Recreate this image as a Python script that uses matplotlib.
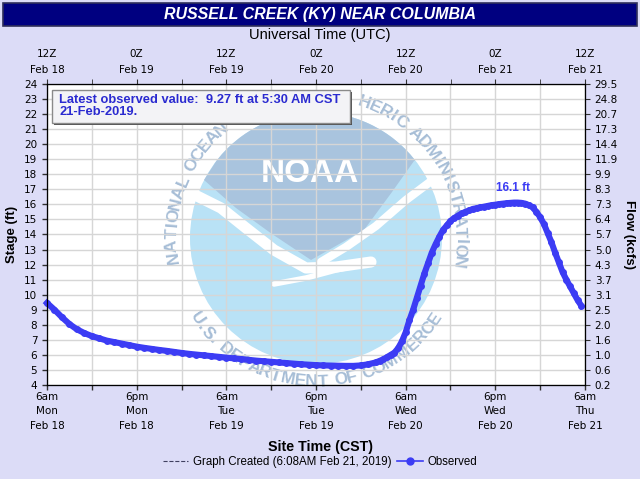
import numpy as np
import matplotlib
matplotlib.use("Agg")
import matplotlib.pyplot as plt
from matplotlib.lines import Line2D
from matplotlib.patches import Rectangle, Circle, Polygon
from matplotlib.transforms import Affine2D

# hours since 6am CST Mon Feb 18
hours = [
    0, 1, 2, 3, 4, 5, 6, 7, 8, 9, 10, 11, 12, 13, 14, 15, 16, 17, 18, 19,
    20, 21, 22, 23, 24, 25, 26, 27, 28, 29, 30, 31, 32, 33, 34, 35, 36, 37,
    38, 39, 40, 41, 42, 43,
    44, 44.5, 45, 45.5, 46, 46.5, 47, 47.5, 48, 48.5, 49, 49.5, 50, 50.5,
    51, 51.5, 52, 52.5, 53, 53.5, 54, 54.5, 55, 55.5, 56, 56.5, 57, 57.5,
    58, 58.5, 59, 59.5, 60, 60.5, 61, 61.5, 62, 62.5, 63, 63.5, 64, 64.5,
    65, 65.5, 66, 66.5, 67, 67.5, 68, 68.5, 69, 69.5, 70, 70.5, 71, 71.5,
]
stage = [
    9.45, 9.0, 8.5, 8.05, 7.7, 7.45, 7.25, 7.1, 6.95, 6.85, 6.75, 6.65,
    6.55, 6.47, 6.4, 6.33, 6.27, 6.2, 6.13, 6.07, 6.02, 5.97, 5.92, 5.87,
    5.82, 5.77, 5.72, 5.67, 5.62, 5.58, 5.54, 5.5, 5.46, 5.42, 5.38, 5.35,
    5.32, 5.3, 5.29, 5.28, 5.27, 5.27, 5.3, 5.38,
    5.5, 5.6, 5.7, 5.85, 6.0, 6.15, 6.45, 6.9, 7.5, 8.3, 9.0, 9.8, 10.6,
    11.4, 12.1, 12.8, 13.35, 13.85, 14.3, 14.6, 14.9, 15.1, 15.25, 15.4,
    15.5, 15.6, 15.7, 15.75, 15.8, 15.85, 15.9, 15.95, 15.98, 16.02, 16.05,
    16.08, 16.1, 16.12, 16.12, 16.1, 16.05, 15.95, 15.8, 15.5, 15.15, 14.7,
    14.1, 13.5, 12.8, 12.15, 11.5, 11.0, 10.55, 10.1, 9.65, 9.27,
]

site_labels = ["6am\nMon\nFeb 18", "6pm\nMon\nFeb 18", "6am\nTue\nFeb 19",
               "6pm\nTue\nFeb 19", "6am\nWed\nFeb 20", "6pm\nWed\nFeb 20",
               "6am\nThu\nFeb 21"]
utc_labels = ["12Z\nFeb 18", "0Z\nFeb 19", "12Z\nFeb 19", "0Z\nFeb 20",
              "12Z\nFeb 20", "0Z\nFeb 21", "12Z\nFeb 21"]
stage_ticks = list(range(4, 25))
flow_labels = ["0.2", "0.6", "1.0", "1.6", "2.0", "2.5", "3.1", "3.7", "4.3",
               "5.0", "5.7", "6.4", "7.3", "8.3", "9.9", "11.9", "14.4",
               "17.3", "20.7", "24.8", "29.5"]

W, H = 640, 479
BG = "#dcdcf7"
BLUE = "#3c3cf4"
SANS = ["Liberation Sans", "DejaVu Sans"]
TICKF = ["DejaVu Sans"]
BOX = (52, 90, 350, 123)  # latest-value box, pixels from top-left


def fx(x):
    return x / W


def fy(y):
    return 1 - y / H


def char_w(ch):
    if ch in " .I":
        return 0.45
    if ch in "MW":
        return 1.05
    return 0.8


def arc_angles(text, a0, a1):
    w = np.array([char_w(c) for c in text])
    pos = np.cumsum(w) - w / 2
    return a0 + (a1 - a0) * pos / w.sum()


fig = plt.figure(figsize=(W / 100, H / 100), dpi=100, facecolor=BG)

# title bar
fig.patches.append(Rectangle((fx(3), fy(26)), fx(634), 23 / H,
                             transform=fig.transFigure, facecolor="#000080",
                             edgecolor="#30305a", linewidth=1.2))
fig.text(0.5, fy(14), "RUSSELL CREEK (KY) NEAR COLUMBIA", color="white",
         ha="center", va="center", fontsize=11.5, fontweight="bold",
         style="italic", family=SANS)

ax = fig.add_axes([fx(47), fy(385), fx(538), 301 / H])
ax.set_facecolor("white")
ax.set_xlim(0, 72)
ax.set_ylim(4, 24)
ax.set_axisbelow(True)

# NOAA watermark, drawn in pixel space around the logo centre
cx, cy = 316, 238
logo = Affine2D().scale(0.01).translate(cx / 100, (H - cy) / 100) + fig.dpi_scale_trans
ax.add_patch(Circle((0, 0), 126, facecolor="#b9e2f6", edgecolor="none",
                    transform=logo, zorder=0.2))
ang = np.radians(np.linspace(38, 142, 30))
cap = [(126 * np.cos(a), 126 * np.sin(a)) for a in ang] + \
      [(-112, 58), (-80, 30), (-44, 4), (-5, -22), (48, 8), (76, 46), (98, 77)]
ax.add_patch(Polygon(cap, closed=True, facecolor="#a9c4de", edgecolor="none",
                     transform=logo, zorder=0.25))
ax.plot([-125, -95, -70, -42, -10, 20, 55], [45, 30, 10, -12, -30, -29, -24],
        color="white", lw=8, solid_capstyle="round", transform=logo, zorder=0.3)
ax.plot([-42, -10, 20, 45], [-46, -40, -32, -27], color="white", lw=4,
        solid_capstyle="round", transform=logo, zorder=0.3)
ax.plot([114, 90, 60, 30, 5], [56, 38, 12, -9, -24], color="white", lw=6,
        solid_capstyle="round", transform=logo, zorder=0.3)
ax.text(-6, 64, "NOAA", color="white", fontsize=24, fontweight="bold",
        ha="center", va="center", family=SANS, transform=logo, zorder=0.35)


def ring_text(text, a0, a1, flip):
    for ch, a in zip(text, arc_angles(text, a0, a1)):
        r = np.radians(a)
        x, y = 144 * np.cos(r), 144 * np.sin(r)
        px, py = cx + x, cy - y
        if BOX[0] - 4 < px < BOX[2] + 4 and BOX[1] - 4 < py < BOX[3] + 4:
            continue  # hidden under the latest-value box
        ax.text(x, y, ch, rotation=a + 90 if flip else a - 90,
                rotation_mode="anchor", ha="center", va="center",
                fontsize=12.5, fontweight="bold", color="#a6bdd6",
                family=SANS, transform=logo, zorder=0.3)


ring_text("NATIONAL OCEANIC AND ATMOSPHERIC ADMINISTRATION", 190, -12, False)
ring_text("U.S. DEPARTMENT OF COMMERCE", 212, 328, True)

# grid and data
ax.set_xticks(range(0, 73, 12))
ax.set_xticks(range(6, 72, 12), minor=True)
ax.set_yticks(stage_ticks)
ax.grid(True, which="both", color="#d6d6d6", linewidth=1)
ax.plot(hours, stage, color=BLUE, lw=4.4, marker="o", markersize=5,
        markeredgewidth=0, zorder=3, clip_on=False)
pk = int(np.argmax(stage))
ax.annotate(f"{stage[pk]:.1f} ft", (hours[pk], stage[pk]), xytext=(-1, 6),
            textcoords="offset points", ha="center", va="bottom",
            color=BLUE, fontsize=8.5, fontweight="bold", family=SANS)

ax.set_xticklabels(site_labels, fontsize=7.5, family=TICKF, linespacing=1.55)
ax.set_yticklabels([str(v) for v in stage_ticks], fontsize=7.5, family=TICKF)
ax.tick_params(which="both", direction="out", length=3.5, width=1,
               color="#303030")
ax.tick_params(axis="x", which="both", pad=1.5)
for s in ax.spines.values():
    s.set_color("#303030")

top = ax.twiny()
top.set_xlim(0, 72)
top.set_xticks(range(0, 73, 12))
top.set_xticks(range(6, 72, 12), minor=True)
top.set_xticklabels(utc_labels, fontsize=7.5, family=TICKF, linespacing=1.75)
top.tick_params(which="both", direction="out", length=3.5, pad=3,
                color="#303030")

right = ax.twinx()
right.set_ylim(4, 24)
right.set_yticks(stage_ticks)
right.set_yticklabels(flow_labels, fontsize=7.5, family=TICKF)
right.tick_params(direction="out", length=3.5, color="#303030")

ax.set_ylabel("Stage (ft)", fontsize=9.5, fontweight="bold", family=SANS,
              labelpad=4)
right.set_ylabel("Flow (kcfs)", fontsize=9.5, fontweight="bold", family=SANS,
                 rotation=-90, labelpad=12)
fig.text(0.5, fy(35), "Universal Time (UTC)", ha="center", va="center",
         fontsize=10.5, family=SANS)
fig.text(0.5, fy(447), "Site Time (CST)", ha="center", va="center",
         fontsize=10.3, fontweight="bold", family=SANS)

# latest value box
bx0, by0, bx1, by1 = BOX
fig.patches.append(Rectangle((fx(bx0 + 2), fy(by1 + 2)), fx(bx1 - bx0),
                             (by1 - by0) / H, transform=fig.transFigure,
                             facecolor="#505050", edgecolor="none", zorder=5))
fig.patches.append(Rectangle((fx(bx0), fy(by1)), fx(bx1 - bx0),
                             (by1 - by0) / H, transform=fig.transFigure,
                             facecolor="#f3f3f6", edgecolor="#8a8a8a",
                             linewidth=1, zorder=6))
fig.text(fx(59), fy(106),
         "Latest observed value:  9.27 ft at 5:30 AM CST\n21-Feb-2019.",
         color="#2a2ad0", fontsize=9.3, fontweight="bold", family=SANS,
         va="center", ha="left", linespacing=0.95, zorder=7)

handles = [Line2D([], [], color="#404060", ls="--", lw=0.8),
           Line2D([], [], color=BLUE, lw=1.2, marker="o", markersize=5)]
fig.legend(handles, ["Graph Created (6:08AM Feb 21, 2019)", "Observed"],
           loc="center", bbox_to_anchor=(0.5, fy(462)), ncol=2, frameon=False,
           prop={"family": SANS, "size": 8.3}, handlelength=2.2,
           handletextpad=0.4, columnspacing=0.5)

fig.savefig("out.png", dpi=100, facecolor=BG)
